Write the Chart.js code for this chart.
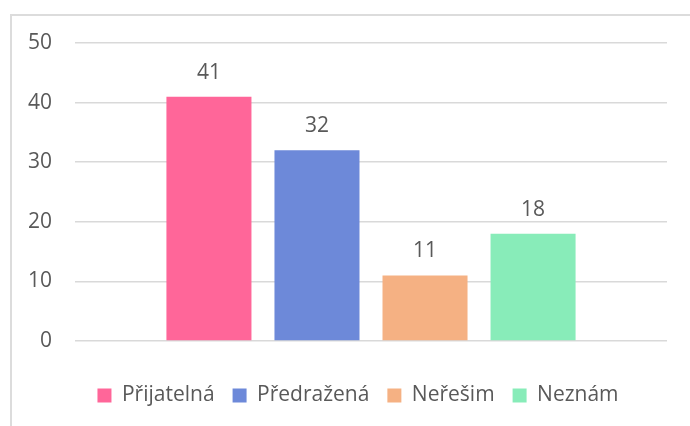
<!DOCTYPE html>
<html>
<head>
<meta charset="utf-8">
<script src="https://cdn.jsdelivr.net/npm/chart.js@4/dist/chart.umd.min.js"></script>
<style>
    html, body { margin: 0; padding: 0; background: #fff; overflow: hidden; }
    #wrap { position: relative; width: 690px; height: 426px; overflow: hidden; }
    #frame {
        position: absolute; left: 10px; top: 14px; width: 720px; height: 500px;
        border-left: 2px solid #dcdcdc; border-top: 2px solid #dcdcdc;
    }
    #chart { position: absolute; left: 0; top: 0; }
</style>
</head>
<body>
<div id="wrap">
    <div id="frame"></div>
    <canvas id="chart" width="690" height="416"></canvas>
</div>
<script>
const seriesNames = ['Přijatelná', 'Předražená', 'Neřešim', 'Neznám'];
const seriesValues = [41, 32, 11, 18];
const seriesColors = ['#FF6699', '#6D89D9', '#F5B183', '#88ECB9'];
const yTicks = [0, 10, 20, 30, 40, 50];

const textColor = '#595959';
const fontFamily = '"Open Sans", "Noto Sans", sans-serif';

// value labels above each bar
const valueLabels = {
    id: 'valueLabels',
    afterDatasetsDraw(chart) {
        const ctx = chart.ctx;
        ctx.save();
        ctx.fillStyle = textColor;
        ctx.font = '21px ' + fontFamily;
        ctx.textAlign = 'center';
        ctx.textBaseline = 'middle';
        chart.data.datasets.forEach((ds, i) => {
            const bar = chart.getDatasetMeta(i).data[0];
            ctx.fillText(ds.data[0], bar.x, bar.y - 24);
        });
        ctx.restore();
    }
};

// legend in the original sits a bit right of the canvas centre
const legendShift = {
    id: 'legendShift',
    afterLayout(chart) {
        if (chart.legend) chart.legend.left += 49;
    }
};

function init() {
    const ctx = document.getElementById('chart').getContext('2d');
    new Chart(ctx, {
        type: 'bar',
        data: {
            labels: [''],
            datasets: seriesNames.map((name, i) => ({
                label: name,
                data: [seriesValues[i]],
                backgroundColor: seriesColors[i],
                borderWidth: 0,
                categoryPercentage: 0.73,
                barPercentage: 0.787
            }))
        },
        options: {
            responsive: false,
            animation: false,
            devicePixelRatio: 1,
            layout: { padding: { top: 43, right: 23, left: 0, bottom: 0 } },
            plugins: {
                tooltip: { enabled: false },
                legend: {
                    position: 'bottom',
                    labels: {
                        boxWidth: 14,
                        boxHeight: 14,
                        padding: 18,
                        color: textColor,
                        font: { size: 21, family: fontFamily }
                    }
                }
            },
            scales: {
                x: {
                    grid: { display: false },
                    border: { display: false },
                    ticks: { display: false },
                    afterFit: s => { s.height = 26; }
                },
                y: {
                    min: 0,
                    max: 50,
                    afterBuildTicks: s => { s.ticks = yTicks.map(v => ({ value: v })); },
                    afterFit: s => { s.width = 75; },
                    grid: { color: '#d9d9d9', lineWidth: 1.5, drawTicks: false },
                    border: { display: false },
                    ticks: {
                        padding: 23,
                        color: textColor,
                        font: { size: 21, family: fontFamily }
                    }
                }
            }
        },
        plugins: [valueLabels, legendShift]
    });
}

window.onload = init;
</script>
</body>
</html>
